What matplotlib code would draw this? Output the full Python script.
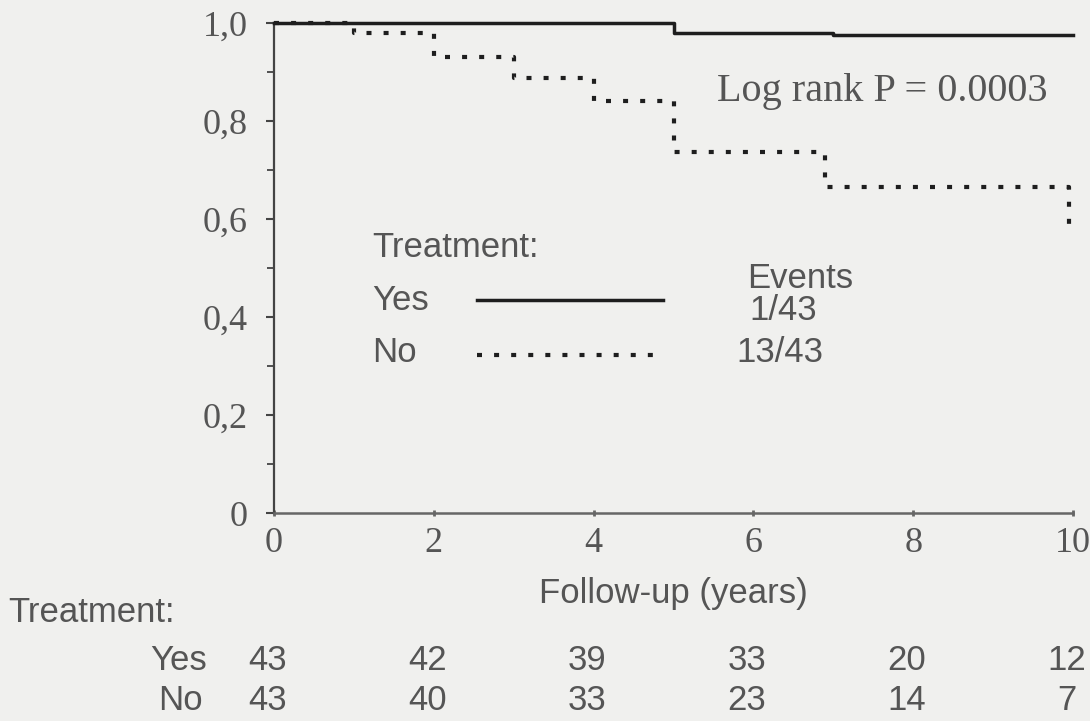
import matplotlib
matplotlib.use("Agg")
import matplotlib.pyplot as plt
import matplotlib.transforms as mtransforms
from matplotlib.lines import Line2D

# survival curves (years, proportion event-free)
yes_time = [0, 5, 7, 10]
yes_surv = [1.0, 0.98, 0.975, 0.975]
no_time = [0, 1, 2, 3, 4, 5, 6.9, 9.95]
no_surv = [1.0, 0.98, 0.93, 0.888, 0.84, 0.737, 0.665, 0.59]

x_ticks = [0, 2, 4, 6, 8, 10]
y_ticks = [0, 0.2, 0.4, 0.6, 0.8, 1.0]
y_tick_labels = ["0", "0,2", "0,4", "0,6", "0,8", "1,0"]

# numbers at risk
risk_yes = [43, 42, 39, 33, 20, 12]
risk_no = [43, 40, 33, 23, 14, 7]
events_yes = "1/43"
events_no = "13/43"

W, H = 1090, 721
bg = "#f0f0ee"
txt = "#555555"
ink = "#1e1e1e"
sans = "Liberation Sans"
serif = "Liberation Serif"
dots = (0, (1.2, 2.9))


def px(x, y):
    return x / W, 1 - y / H


fig = plt.figure(figsize=(W / 100, H / 100), dpi=100, facecolor=bg)
l, b = px(274, 513)
ax = fig.add_axes([l, b, (1073 - 274) / W, (513 - 23) / H])
ax.set_facecolor(bg)

ax.step(yes_time, yes_surv, where="post", color=ink, lw=2.5, clip_on=False, zorder=3)
ax.step(no_time, no_surv, where="post", color=ink, lw=3.0,
        linestyle=dots, clip_on=False, zorder=4)

ax.set_xlim(0, 10)
ax.set_ylim(0, 1)
for s in ["top", "right"]:
    ax.spines[s].set_visible(False)
ax.spines["left"].set_color("#444444")
ax.spines["left"].set_linewidth(1.6)
ax.spines["bottom"].set_color("#666666")
ax.spines["bottom"].set_linewidth(1.8)

ax.set_xticks(x_ticks)
ax.set_xticklabels([str(t) for t in x_ticks])
ax.set_yticks(y_ticks)
ax.set_yticklabels(y_tick_labels)
ax.set_yticks([i / 10 for i in range(11)], minor=True)
ax.tick_params(axis="y", which="major", length=6, width=1.5, color="#444444",
               labelsize=26, labelcolor=txt, pad=13)
ax.tick_params(axis="y", which="minor", length=5, width=1.3, color="#444444")
ax.tick_params(axis="x", which="major", length=4, width=2, direction="inout",
               color="#666666", labelsize=26, labelcolor=txt, pad=8)
for lab in ax.get_xticklabels() + ax.get_yticklabels():
    lab.set_fontfamily(serif)

ax.text(0.555, 0.86, "Log rank P = 0.0003", transform=ax.transAxes,
        family=serif, fontsize=29, color=txt, va="center")

# legend block
fs = 25
fig.text(*px(372, 247), "Treatment:", family=sans, fontsize=fs, color=txt, va="center")
fig.text(*px(372, 300), "Yes", family=sans, fontsize=fs, color=txt, va="center")
fig.text(*px(372, 353), "No", family=sans, fontsize=fs, color=txt, va="center")
fig.text(*px(800, 278), "Events", family=sans, fontsize=fs, color=txt, va="center", ha="center")
fig.text(*px(783, 311), events_yes, family=sans, fontsize=fs, color=txt, va="center", ha="center")
fig.text(*px(780, 353), events_no, family=sans, fontsize=fs, color=txt, va="center", ha="center")
x0, y0 = px(477, 300)
x1, _ = px(663, 300)
fig.add_artist(Line2D([x0, x1], [y0, y0], color=ink, lw=2.5, transform=fig.transFigure))
_, y2 = px(477, 355)
fig.add_artist(Line2D([x0, x1], [y2, y2], color=ink, lw=3.0, linestyle=dots,
                      transform=fig.transFigure))

# x label and risk table
fig.text(*px(673, 593), "Follow-up (years)", family=sans, fontsize=fs, color=txt,
         ha="center", va="center")
fig.text(*px(8, 612), "Treatment:", family=sans, fontsize=fs, color=txt, va="center")
trans = mtransforms.blended_transform_factory(ax.transData, fig.transFigure)
fig.text(px(207, 0)[0], px(0, 660)[1], "Yes", family=sans, fontsize=fs, color=txt,
         ha="right", va="center")
fig.text(px(203, 0)[0], px(0, 701)[1], "No", family=sans, fontsize=fs, color=txt,
         ha="right", va="center")
for t, ny, nn in zip(x_ticks, risk_yes, risk_no):
    ax.text(t - 0.08, px(0, 660)[1], str(ny), transform=trans, family=sans, fontsize=fs,
            color=txt, ha="center", va="center")
    ax.text(t - 0.08, px(0, 701)[1], str(nn), transform=trans, family=sans, fontsize=fs,
            color=txt, ha="center", va="center")

fig.savefig("out.png", dpi=100, facecolor=bg)
